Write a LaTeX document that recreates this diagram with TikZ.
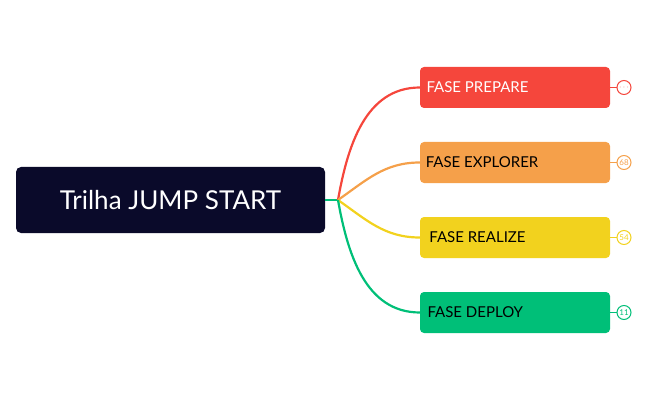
\documentclass[tikz,border=0pt]{standalone}
\usepackage{fontspec}
\setmainfont{Lato}
\usetikzlibrary{positioning,calc}
\definecolor{navy}{HTML}{0A0A2A}
\definecolor{fred}{HTML}{F5463C}
\definecolor{forange}{HTML}{F5A04A}
\definecolor{fyellow}{HTML}{F2D21E}
\definecolor{fgreen}{HTML}{00BF78}
\tikzset{
  phase/.style={rounded corners=4pt, minimum width=190pt, minimum height=41pt, inner sep=0pt, font=\fontsize{15}{18}\selectfont},
  count/.style={circle, draw=#1, fill=white, line width=1pt, minimum size=14pt, inner sep=0pt, text=#1, font=\fontsize{8}{9}\selectfont},
  link/.style={line width=2.2pt}
}
\begin{document}
\begin{tikzpicture}[x=1pt, y=-1pt]
	\useasboundingbox (0,0) rectangle (648,401);
	\node[fill=navy, rounded corners=5pt, minimum width=309pt, minimum height=66pt, text=white, font=\fontsize{26}{30}\selectfont] (root) at (170.5,200) {Trilha JUMP START};
	\coordinate (hub) at (338,200);

	\node[phase, fill=fred, text=white] (prep) at (515,87.5)  {FASE PREPARE\hspace*{5em}};
	\node[phase, fill=forange, text=black] (expl) at (515,162.5) {FASE EXPLORER\hspace*{4.4em}};
	\node[phase, fill=fyellow, text=black] (real) at (515,237.5) {FASE REALIZE\hspace*{5em}};
	\node[phase, fill=fgreen, text=black] (depl) at (515,312.5) {FASE DEPLOY\hspace*{5.3em}};

	\node[count=fred]    (cprep) at (624,87.5)  {$\cdots$};
	\node[count=forange] (cexpl) at (624,162.5) {68};
	\node[count=fyellow] (creal) at (624,237.5) {54};
	\node[count=fgreen]  (cdepl) at (624,312.5) {11};

	\draw[link, fgreen] (root.east) -- (hub);
	\draw[link, fred]    (hub) to[out=80, in=180]  (prep.west);
	\draw[link, forange] (hub) to[out=35, in=180]  (expl.west);
	\draw[link, fyellow] (hub) to[out=-35, in=180] (real.west);
	\draw[link, fgreen]  (hub) to[out=-80, in=180] (depl.west);

	\draw[line width=1pt, fred]    (prep.east) -- (cprep);
	\draw[line width=1pt, forange] (expl.east) -- (cexpl);
	\draw[line width=1pt, fyellow] (real.east) -- (creal);
	\draw[line width=1pt, fgreen]  (depl.east) -- (cdepl);
\end{tikzpicture}
\end{document}
